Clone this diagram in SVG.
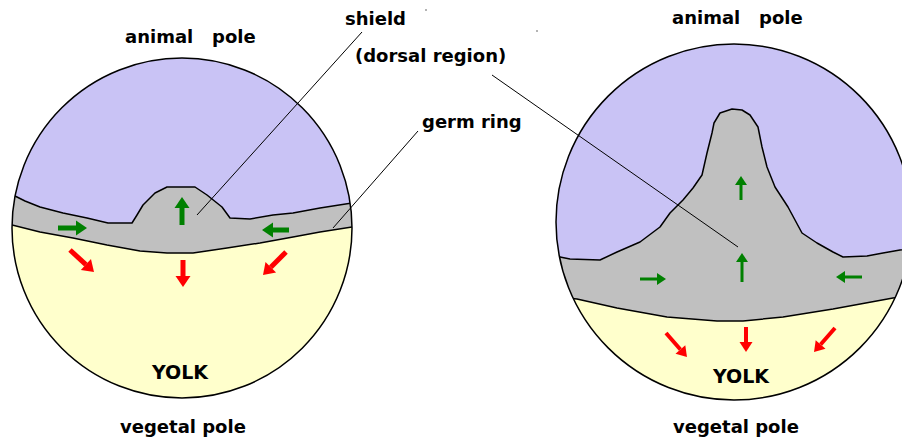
<svg xmlns="http://www.w3.org/2000/svg" width="902" height="441" viewBox="0 0 902 441">
  <style>
    text { font-family: "DejaVu Sans", Verdana, sans-serif; font-weight: bold; font-size: 18px; fill: #000; }
    .yolk { font-size: 19px; }
    .animal { fill: #c9c3f5; }
    .grey { fill: #c0c0c0; stroke: #000; stroke-width: 1.5; stroke-linejoin: round; }
    .yellow { fill: #ffffcc; stroke: #000; stroke-width: 1.5; stroke-linejoin: round; }
    .outline { fill: none; stroke: #000; stroke-width: 1.5; }
    .leader { stroke: #000; stroke-width: 1; fill: none; }
    .g1 { stroke: #008000; stroke-width: 5; fill: none; marker-end: url(#headG1); }
    .r1 { stroke: #ff0000; stroke-width: 5; fill: none; marker-end: url(#headR1); }
    .g2 { stroke: #008000; stroke-width: 3; fill: none; marker-end: url(#headG2); }
    .r2 { stroke: #ff0000; stroke-width: 4; fill: none; marker-end: url(#headR2); }
  </style>
  <defs>
    <clipPath id="clipLeft"><circle cx="182" cy="228" r="170"/></clipPath>
    <clipPath id="clipRight"><circle cx="734" cy="222" r="178"/></clipPath>
    <marker id="headG1" markerUnits="userSpaceOnUse" markerWidth="12" markerHeight="16" refX="0" refY="0" orient="auto" style="overflow:visible">
      <path d="M0,-7.5 L11,0 L0,7.5 Z" fill="#008000"/>
    </marker>
    <marker id="headR1" markerUnits="userSpaceOnUse" markerWidth="12" markerHeight="16" refX="0" refY="0" orient="auto" style="overflow:visible">
      <path d="M0,-7.5 L11,0 L0,7.5 Z" fill="#ff0000"/>
    </marker>
    <marker id="headG2" markerUnits="userSpaceOnUse" markerWidth="10" markerHeight="12" refX="0" refY="0" orient="auto" style="overflow:visible">
      <path d="M0,-6 L9,0 L0,6 Z" fill="#008000"/>
    </marker>
    <marker id="headR2" markerUnits="userSpaceOnUse" markerWidth="11" markerHeight="14" refX="0" refY="0" orient="auto" style="overflow:visible">
      <path d="M0,-6.5 L10,0 L0,6.5 Z" fill="#ff0000"/>
    </marker>
  </defs>

  <!-- early gastrula: shield forming at the germ ring -->
  <g id="embryo-early">
    <g clip-path="url(#clipLeft)">
      <rect class="animal" x="0" y="50" width="370" height="360"/>
      <path class="grey" d="M5,193 L13,195 L25,201 L40,207 L63,213 L87,218 L108,223 L132,223 L137,215 L143,205 L155,193 L167,187 L195,187 L207,195 L222,207 L230,218 L250,219 L273,215 L293,213 L320,208 L352,203 L362,202 L362,420 L5,420 Z"/>
      <path class="yellow" d="M5,224 L12,225 L40,232 L73,238 L107,245 L140,251 L167,253 L193,253 L227,248 L260,243 L293,237 L320,232 L352,227 L362,226 L362,420 L5,420 Z"/>
    </g>
    <circle class="outline" cx="182" cy="228" r="170"/>
    <text x="125" y="43" xml:space="preserve" style="white-space:pre">animal   pole</text>
    <text class="yolk" x="152" y="379">YOLK</text>
    <text x="120" y="433">vegetal pole</text>
  </g>

  <!-- later gastrula: shield extended toward the animal pole -->
  <g id="embryo-late">
    <g clip-path="url(#clipRight)">
      <rect class="animal" x="550" y="40" width="370" height="370"/>
      <path class="grey" d="M550,256 L560,257 L570,259 L600,260 L617,252 L640,242 L660,227 L670,213 L683,200 L693,188 L702,175 L707,153 L712,133 L714,123 L720,113 L732,109 L742,110 L750,115 L758,127 L762,147 L767,167 L775,187 L788,207 L795,220 L802,233 L817,243 L833,252 L843,257 L867,256 L883,253 L900,250 L915,248 L915,420 L550,420 Z"/>
      <path class="yellow" d="M550,296 L577,299 L617,308 L667,317 L717,321 L743,321 L783,317 L833,309 L893,298 L915,295 L915,420 L550,420 Z"/>
    </g>
    <circle class="outline" cx="734" cy="222" r="178"/>
    <text x="672" y="24" xml:space="preserve" style="white-space:pre">animal   pole</text>
    <text class="yolk" x="713" y="383">YOLK</text>
    <text x="673" y="433">vegetal pole</text>
  </g>

  <g id="label-shield">
    <text x="345" y="25">shield</text>
    <text x="355" y="62">(dorsal region)</text>
  </g>
  <g id="label-germ-ring">
    <text x="422" y="128">germ ring</text>
  </g>

  <!-- leader lines and cell-movement arrows -->
  <g id="connectors">
    <line class="leader" x1="362" y1="32" x2="197" y2="215"/>
    <line class="leader" x1="492" y1="75" x2="738" y2="247"/>
    <line class="leader" x1="418" y1="131" x2="333" y2="228"/>

    <line class="g1" x1="58" y1="228" x2="76" y2="228"/>
    <line class="g1" x1="182" y1="225" x2="182" y2="208"/>
    <line class="g1" x1="289" y1="230" x2="273" y2="230"/>
    <line class="r1" x1="70" y1="250" x2="85.9" y2="264.6"/>
    <line class="r1" x1="183" y1="260" x2="183" y2="276"/>
    <line class="r1" x1="286" y1="252" x2="270.8" y2="267.2"/>

    <line class="g2" x1="741" y1="200" x2="741" y2="185"/>
    <line class="g2" x1="742" y1="282" x2="742" y2="262"/>
    <line class="g2" x1="640" y1="279" x2="657" y2="279"/>
    <line class="g2" x1="862" y1="277" x2="845" y2="277"/>
    <line class="r2" x1="666" y1="333" x2="680.4" y2="349.5"/>
    <line class="r2" x1="746" y1="327" x2="746" y2="342"/>
    <line class="r2" x1="835" y1="328" x2="820.6" y2="344.5"/>
  </g>

  <circle cx="426" cy="10" r="0.8" fill="#555"/>
  <circle cx="537" cy="31" r="0.8" fill="#555"/>
</svg>
